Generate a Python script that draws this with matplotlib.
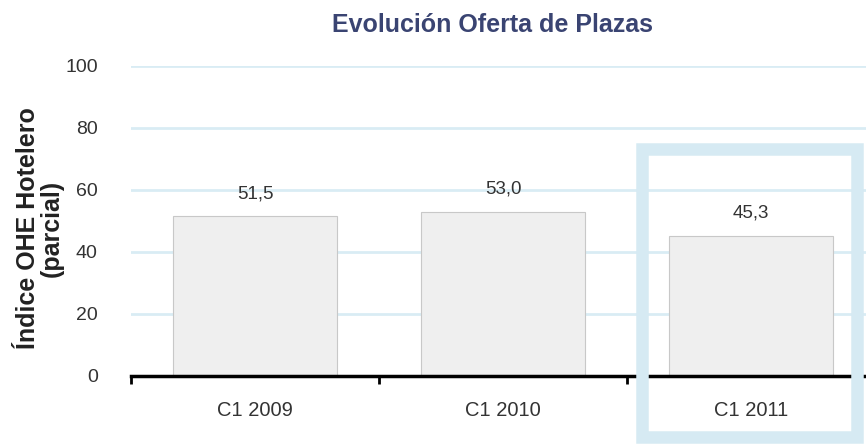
import matplotlib.pyplot as plt
from matplotlib.patches import Rectangle

categories = ["C1 2009", "C1 2010", "C1 2011"]
values = [51.5, 53.0, 45.3]
labels = ["51,5", "53,0", "45,3"]
yticks = [0, 20, 40, 60, 80, 100]

plt.rcParams['font.family'] = ['Liberation Sans', 'DejaVu Sans']

fig = plt.figure(figsize=(8.66, 4.45), dpi=100)
ax = fig.add_axes([131 / 866, 69 / 445, 744 / 866, 310 / 445])

x = range(len(categories))
ax.bar(x, values, width=0.665, color='#efefef', edgecolor='#c8c8c8', linewidth=0.8, zorder=3)
for xi, v, lab in zip(x, values, labels):
    ax.text(xi, v + 4.5, lab, ha='center', va='bottom', fontsize=13.5, color='#333333', zorder=4)

ax.set_xlim(-0.5, 2.5)
ax.set_ylim(0, 100)
ax.set_yticks(yticks)
ax.set_yticklabels([str(t) for t in yticks], fontsize=14, color='#333333')
ax.yaxis.grid(True, color='#d9ecf4', linewidth=2, zorder=0)
ax.tick_params(axis='y', length=0, pad=24)

ax.set_xticks([-0.5, 0.5, 1.5, 2.5])
ax.set_xticklabels([])
ax.tick_params(axis='x', direction='out', length=6, width=2, color='black')
for xi, c in zip(x, categories):
    ax.text(xi, -11, c, ha='center', va='center', fontsize=14.5, color='#333333')

for s in ['top', 'right', 'left']:
    ax.spines[s].set_visible(False)
ax.spines['bottom'].set_linewidth(2.5)
ax.spines['bottom'].set_zorder(5)

fig.text(40 / 866, 1 - 228 / 445, "Índice OHE Hotelero\n(parcial)", rotation=90, ha='center', va='center',
         fontsize=18, fontweight='bold', color='#222222', linespacing=0.95, multialignment='center')
fig.text(492 / 866, 1 - 25 / 445, "Evolución Oferta de Plazas", ha='center', va='center',
         fontsize=18, fontweight='bold', color='#3a4472')

# highlight box around the last category
fig.patches.append(Rectangle((642 / 866, 1 - 437 / 445), 215 / 866, 288 / 445, transform=fig.transFigure,
                             fill=False, edgecolor='#d6eaf3', linewidth=9, zorder=10))

fig.savefig('out.png', dpi=100)
